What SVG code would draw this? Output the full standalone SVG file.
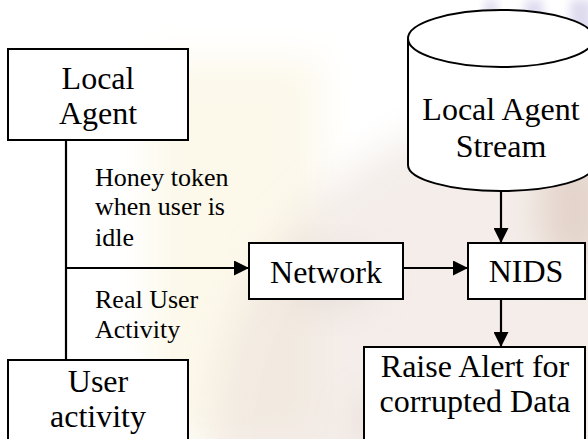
<svg xmlns="http://www.w3.org/2000/svg" width="588" height="439" viewBox="0 0 588 439">
  <defs>
    <style>
      .box { fill: #ffffff; stroke: #000000; stroke-width: 2; }
      .edge { fill: none; stroke: #000000; stroke-width: 2.2; }
      .big { font-family: 'Times New Roman', 'Liberation Serif', Tinos, serif; font-size: 32px; fill: #000000; text-anchor: middle; }
      .small { font-family: 'Times New Roman', 'Liberation Serif', Tinos, serif; font-size: 26px; fill: #000000; }
    </style>
    <marker id="arrow" viewBox="0 0 15 15" refX="15" refY="7.5" markerWidth="15" markerHeight="15" markerUnits="userSpaceOnUse" orient="auto">
      <path d="M0,0 L15,7.5 L0,15 Z" fill="#000000"/>
    </marker>
    <filter id="blur" x="-50%" y="-50%" width="200%" height="200%">
      <feGaussianBlur stdDeviation="18"/>
    </filter>
    <filter id="blur2" x="-50%" y="-50%" width="200%" height="200%">
      <feGaussianBlur stdDeviation="5"/>
    </filter>
  </defs>

  <!-- faint background watermark -->
  <g id="background">
    <rect x="0" y="0" width="588" height="439" fill="#ffffff"/>
    <rect x="150" y="60" width="170" height="379" fill="#fcf8ea" filter="url(#blur)"/>
    <circle cx="540" cy="440" r="330" fill="#ede2dc" opacity="0.6" filter="url(#blur)"/>
    <ellipse cx="330" cy="280" rx="45" ry="28" fill="#ddd0ca" opacity="0.5" filter="url(#blur)"/>
    <ellipse cx="575" cy="210" rx="35" ry="60" fill="#cfb3a4" opacity="0.45" filter="url(#blur)"/>
    <ellipse cx="430" cy="420" rx="80" ry="30" fill="#e0d3cc" opacity="0.5" filter="url(#blur)"/>
    <rect x="485" y="0" width="12" height="45" fill="#dedbef" filter="url(#blur2)"/>
    <rect x="525" y="0" width="18" height="50" fill="#dedbef" filter="url(#blur2)"/>
    <rect x="570" y="0" width="22" height="50" fill="#dedbef" filter="url(#blur2)"/>
  </g>

  <g id="connectors">
    <path class="edge" d="M66,140 L66,360"/>
    <path class="edge" d="M66,268 L249,268" marker-end="url(#arrow)"/>
    <path class="edge" d="M403,268 L468,268" marker-end="url(#arrow)"/>
    <path class="edge" d="M501,191 L501,243" marker-end="url(#arrow)"/>
    <path class="edge" d="M501,299 L501,347" marker-end="url(#arrow)"/>
  </g>

  <g id="label-honey">
    <text class="small" x="95" y="186">Honey token</text>
    <text class="small" x="95" y="215">when user is</text>
    <text class="small" x="95" y="246">idle</text>
  </g>
  <g id="label-real">
    <text class="small" x="95" y="308">Real User</text>
    <text class="small" x="95" y="338">Activity</text>
  </g>

  <g id="local-agent">
    <rect class="box" x="8" y="49" width="180" height="91"/>
    <text class="big" x="98" y="89">Local</text>
    <text class="big" x="98" y="124">Agent</text>
  </g>

  <g id="user-activity">
    <rect class="box" x="8" y="360" width="180" height="90"/>
    <text class="big" x="98" y="392">User</text>
    <text class="big" x="98" y="427">activity</text>
  </g>

  <g id="network">
    <rect class="box" x="249" y="243" width="154" height="56"/>
    <text class="big" x="326" y="283">Network</text>
  </g>

  <g id="nids">
    <rect class="box" x="468" y="243" width="117" height="56"/>
    <text class="big" x="526" y="282">NIDS</text>
  </g>

  <g id="raise-alert">
    <rect class="box" x="364" y="347" width="221" height="100"/>
    <text class="big" x="475" y="377">Raise Alert for</text>
    <text class="big" x="475" y="412">corrupted Data</text>
  </g>

  <g id="local-agent-stream">
    <path class="box" d="M408,38 L408,165 A93,26 0 0,0 594,165 L594,38"/>
    <ellipse class="box" cx="501" cy="38.5" rx="93" ry="28.5"/>
    <text class="big" x="501" y="120">Local Agent</text>
    <text class="big" x="501" y="157">Stream</text>
  </g>
</svg>
